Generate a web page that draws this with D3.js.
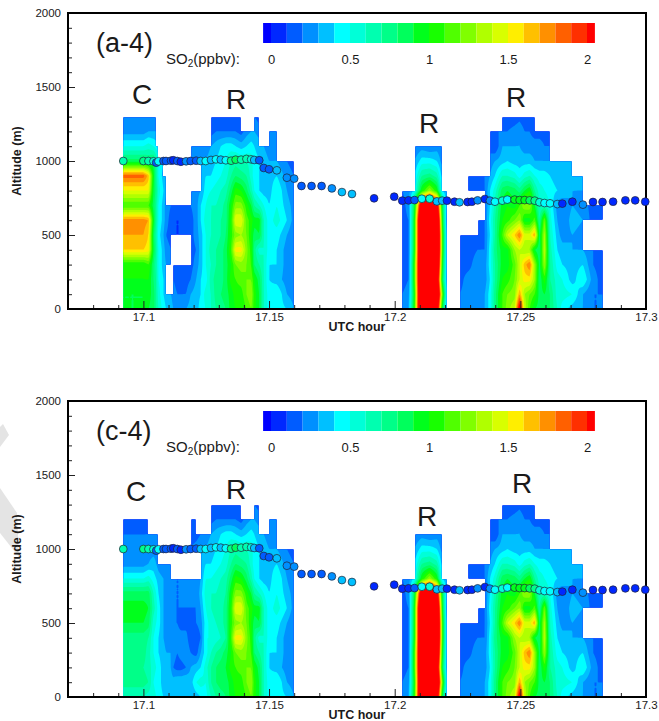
<!DOCTYPE html>
<html>
<head>
<meta charset="utf-8">
<title>SO2 curtains</title>
<script src="https://cdn.jsdelivr.net/npm/d3@7"></script>
<style>
	html, body { margin: 0; background: #fff; overflow: hidden; }
	svg { display: block; }
	text { font-family: "Liberation Sans", Arial, sans-serif; fill: #1a1a1a; }
</style>
</head>
<body>
<svg id="chart" width="659" height="721"></svg>
<script>
const _ = null;

// grid rows, top to bottom of each column
const altitudes = [1300, 1200, 1100, 1000, 900, 800, 700, 600, 500, 400, 300, 200, 100, 0];

// flight hours of each profile column
const hoursC = [17.0920, 17.1000, 17.1020, 17.1040, 17.1051, 17.1060, 17.1080, 17.1090, 17.1110, 17.1119, 17.1135, 17.1149, 17.1170, 17.1188, 17.1210, 17.1228, 17.1248, 17.1269, 17.1289, 17.1308, 17.1328, 17.1349, 17.1367, 17.1389, 17.1410, 17.1429, 17.1441, 17.1461, 17.1479, 17.1500, 17.1531, 17.1571, 17.1600];
const hoursR2 = [17.2030, 17.2055, 17.2079, 17.2108, 17.2139, 17.2168, 17.2189, 17.2208];
const hoursR3 = [17.2258, 17.2290, 17.2307, 17.2330, 17.2359, 17.2379, 17.2399, 17.2428, 17.2448, 17.2477, 17.2497, 17.2517, 17.2537, 17.2557, 17.2576, 17.2596, 17.2618, 17.2647, 17.2667, 17.2707, 17.2749, 17.2789, 17.2827];
const hoursGap1 = [17.1629, 17.1669, 17.1709, 17.1750, 17.1790, 17.1830, 17.1918, 17.1998];
const hoursGap2 = [17.2238];
const hoursGap3 = [17.2869, 17.2918, 17.2957, 17.2997];

// SO2 columns of the first block in panel (a-4)
const columnsA = [
	[.2, .25, .5, .85, 1.85, 1.5, 1.1, 1.75, 1.7, 1.6, 1, 1, .9, .9],
	[.2, .25, .5, .85, 1.85, 1.5, 1.1, 1.75, 1.7, 1.6, 1, 1, .9, .9],
	[.2, .3, .55, .8, 1.65, 1.5, 1.1, 1.7, 1.6, 1.55, 1.1, 1, .95, .9],
	[.2, .3, .5, .85, .95, .9, .85, .95, .85, .9, .8, .8, .85, .85],
	[.2, .3, .45, .7, .7, .75, .7, .7, .65, .7, .65, .7, .7, .7],
	[_, _, .4, .5, .5, .55, .5, .5, .45, .5, .5, .5, .55, .6],
	[_, _, _, .4, .35, .4, .35, .35, .3, .35, .35, .4, .4, .45],
	[_, _, _, _, .3, .3, .25, .25, .2, .25, .3, .3, .35, .4],
	[_, _, _, _, _, _, .2, .15, .15, .2, .25, _, .3, .35],
	[_, _, _, _, _, _, .15, .1, .1, _, .15, .2, .25, .3],
	[_, _, _, _, _, _, .15, .1, .1, _, .15, .15, .2, .25],
	[_, _, _, _, _, _, .15, .1, .1, _, .15, .15, .2, .25],
	[_, _, _, _, _, _, .2, .12, .1, _, .15, .15, .2, .3],
	[_, _, .2, .2, _, .2, .2, .15, .15, .15, .15, .2, .3, .35],
	[_, _, .2, .25, _, .25, .25, .25, .25, .2, .25, .3, .35, .35],
	[_, _, .25, .3, .3, .3, .4, .4, .35, .35, .35, .4, .4, .45],
	[_, _, .25, .3, .4, .45, .5, .55, .5, .5, .5, .45, .55, .5],
	[.1, .15, .3, .35, .4, .5, .6, .6, .6, .65, .6, .65, .6, .6],
	[.1, .2, .35, .4, .45, .55, .6, .65, .65, .7, .7, .75, .75, .7],
	[.1, .2, .4, .45, .5, .6, .65, .7, .7, .75, .75, .75, .8, .75],
	[.1, .2, .45, .5, .55, .65, .75, .75, .8, .85, .85, .85, .85, .8]
];

// same columns in panel (c-4)
const columnsC = [
	[_, .15, .2, .2, .25, .5, .85, .95, .9, .75, .75, .7, .75, .6],
	[_, .15, .2, .2, .25, .5, .85, .95, .9, .75, .75, .7, .75, .6],
	[_, .15, .2, .25, .3, .55, .85, .9, .85, .7, .65, .65, .7, .55],
	[_, _, .2, .25, .35, .45, .6, .65, .55, .5, .5, .55, .5, .55],
	[_, _, .2, .25, .3, .4, .5, .55, .5, .45, .45, .5, .45, .5],
	[_, _, .2, .2, .25, .35, .4, .45, .45, .4, .4, .45, .45, .45],
	[_, _, _, _, .2, .3, .3, .3, .3, .3, .35, .35, .35, .4],
	[_, _, _, _, .2, .25, .25, .25, .25, .25, .3, .35, .35, .35],
	[_, _, _, _, .2, .2, .2, .2, .2, .25, .3, .3, .35, .3],
	[_, _, _, _, _, .2, .2, .2, .2, .25, .25, .2, .35, .3],
	[_, _, _, _, _, .2, .2, .2, .2, .25, .2, .15, .4, .3],
	[_, _, _, _, _, .2, .2, .2, .15, .25, .25, .15, .4, .3],
	[_, _, _, _, _, .2, .2, .2, .15, .25, .3, .2, .4, .3],
	[_, .15, .15, .2, _, .2, .2, .2, .15, .1, .2, .3, .35, .3],
	[_, .15, .15, .25, _, .2, .2, .2, .2, .1, .15, .35, .5, .35],
	[_, _, .2, .3, .3, .3, .35, .3, .25, .2, .3, .4, .55, .4],
	[_, _, .25, .3, .4, .5, .55, .5, .45, .5, .45, .55, .5, .45],
	[.1, .15, .3, .35, .4, .5, .6, .6, .55, .5, .6, .7, .7, .6],
	[.1, .2, .35, .4, .45, .55, .6, .65, .6, .55, .7, .8, .8, .7],
	[.1, .2, .4, .45, .5, .6, .65, .65, .65, .6, .75, .85, .85, .75],
	[.1, .2, .45, .5, .55, .65, .7, .75, .75, .7, .85, .9, .85, .8]
];

// right part of the first block, the same in both panels
const columnsShared = [
	[.1, .2, .45, .6, .7, .85, 1, 1.05, 1.05, 1.1, 1, 1.05, .95, .95],
	[.1, .2, .4, .65, .8, 1.05, 1.25, 1.5, 1.25, 1.55, 1.2, 1.1, 1.05, 1],
	[.1, .15, .35, .6, .75, 1, 1.25, 1.5, 1.3, 1.55, 1.25, 1.15, 1.05, 1],
	[_, .25, .4, .6, .7, .85, 1.05, 1.15, 1.2, 1.25, 1.2, 1.2, 1.2, 1.1],
	[_, .3, .45, .55, .55, .65, .9, 1.05, 1, 1.05, 1.1, 1.2, 1.3, 1.2],
	[.2, .3, .4, .45, .45, .5, .7, .95, .85, .75, .8, 1, 1.05, 1.05],
	[.15, .25, .35, .4, .4, .4, .6, .95, .9, .55, .7, .85, .9, .9],
	[_, _, .3, .35, .35, .35, .5, .6, .6, .6, .6, .6, .6, .6],
	[_, .2, .25, .3, .35, .35, .4, .45, .45, .45, .4, .4, .45, .45],
	[_, .2, .25, .3, .4, .5, .5, .55, .45, .4, .4, .35, .5, .45],
	[_, _, _, .2, .25, .3, .35, .4, .3, .25, .25, .25, .3, .4],
	[_, _, _, .15, .2, .2, .25, .25, .2, .2, .2, .2, .25, .3]
];

const columnsR2 = [
	[_, _, _, _, _, .2, .15, .15, .15, .15, .15, .15, .2, .2],
	[_, _, _, _, _, .25, .25, .2, .2, .2, .2, .2, .25, .3],
	[_, _, .2, .3, .4, .45, .9, 1, 1, 1, 1.1, 1.1, 1, 1.05],
	[_, _, .25, .45, .7, 1, 2.5, 3, 3, 3, 3, 3, 3, 3],
	[_, _, .2, .45, .75, 1.3, 3, 4, 4, 4, 4, 4, 4, 4],
	[_, _, .25, .4, .65, 1, 2.3, 2.8, 3, 3, 2.8, 2.5, 2.8, 2.4],
	[_, _, .2, .25, .35, .4, .9, 1, 1.1, 1.1, 1, .9, 1.2, .9],
	[_, _, _, _, _, .3, .3, .25, .3, .3, .3, .3, .35, .3]
];

const columnsR3 = [
	[_, _, _, _, _, _, _, _, .1, .12, .15, .15, .2, .2],
	[_, _, _, _, .15, .15, _, _, .15, .15, .15, .25, .25, .2],
	[_, _, _, _, .15, .15, _, _, .15, .15, .2, .25, .25, .25],
	[_, _, _, _, .2, .15, _, .15, .15, .2, .3, .2, .2, .25],
	[_, _, _, _, .2, .2, .2, .2, .2, .2, .25, .25, .3, .3],
	[_, .15, .15, .25, .3, .4, .4, .45, .4, .45, .45, .4, .45, .45],
	[_, .2, .1, .3, .4, .55, .65, .7, .7, .75, .7, .7, .75, .75],
	[.1, .2, .3, .35, .6, .85, .95, 1, 1.1, .95, .95, 1, 1.1, 1.1],
	[.1, .2, .3, .4, .6, .9, 1, 1.05, 1.4, .95, .95, 1.05, 1.2, 1.25],
	[.12, .25, .3, .35, .55, .85, .95, 1.2, 1.6, 1.3, 1.15, 1.2, 1.25, 1.4],
	[.15, .3, .3, .35, .45, .75, 1.1, 1.3, 1.8, 1.4, 1.4, 1.4, 1.7, 2.2],
	[.1, .2, .25, .35, .55, .9, 1.3, .95, 1.45, 1.3, 1.65, 1.55, 1.3, 1.4],
	[.1, .2, .25, .35, .6, 1, 1.3, .95, 1.45, 1.3, 1.8, 1.55, 1.2, 1.1],
	[.1, .15, .25, .3, .5, .7, .9, 1.15, 1.7, .9, 1.3, 1.3, 1.1, .9],
	[_, .15, .25, .3, .45, .55, .6, .7, .85, .8, .85, .8, .85, .85],
	[_, .15, .2, .3, .45, .5, .6, 1.2, 1.35, 1.4, 1.3, 1.05, .9, .9],
	[_, .15, .2, .3, .4, .45, .5, .55, .6, .65, .7, .7, .8, .8],
	[_, _, _, .3, .35, .4, .25, .3, .35, .4, .45, .55, .55, .6],
	[_, _, _, .35, .35, .4, .2, .2, .25, .35, .4, .5, .55, .45],
	[_, _, _, .3, .35, .3, .3, .35, .3, .3, .35, .35, .5, .35],
	[_, _, _, _, .3, .3, .25, .3, .25, .3, .4, .5, .3, .3],
	[_, _, _, _, _, _, .15, .15, _, .2, .2, .25, .2, .2],
	[_, _, _, _, _, _, .15, .15, _, .15, .15, .15, .2, .2]
];

// flight track, in order of time
const dotHours = [...hoursC, ...hoursGap1, ...hoursR2, ...hoursGap2, ...hoursR3, ...hoursGap3];
const dotAltitudes = [
	1000, 1000, 1000, 998, 989, 998, 1000, 1000, 1002, 1005, 1000, 995, 998, 1000, 1002, 1000, 1000, 1007, 1011, 1009, 1005, 1002, 1009, 1009, 1014, 1011, 1007, 1005, 953, 944, 937, 887, 881,
	831, 831, 831, 815, 790, 777, 748, 759,
	732, 734, 736, 745, 745, 727, 732, 732,
	725,
	721, 723, 725, 734, 743, 732, 725, 732, 739, 739, 736, 736, 734, 732, 721, 716, 714, 709, 712, 725, 705, 723, 723,
	725, 734, 734, 725
];
const dotValues = [
	.65, .7, .65, .55, .1, .45, .15, .15, .15, .05, .15, .05, .25, .15, .15, .3, .4, .35, .45, .3, .45, .7, .8, .65, .6, .55, .3, .15, .15, .15, .3, .2, .25,
	.1, .1, .1, .2, .3, .35, .05, .05,
	.05, .05, .15, .4, .55, .3, .3, .05,
	.05,
	.3, .05, .05, .25, .05, .25, .45, .55, .45, .95, .95, .95, .85, .75, .5, .45, .45, .3, .05, .05, .2, .05, .05,
	.05, .05, .05, .05
];

const levels = d3.range(0, 21).map(d => d / 10);
const levelColors = ['#0000ff', '#0028ff', '#005cff', '#0090ff', '#00c0ff', '#00ffff', '#00ffd8', '#00ffb0', '#00ff88', '#00ff5c', '#00ff1c', '#18ff00', '#50ff00', '#80ff00', '#b0ff00', '#d8ff00', '#ffee00', '#ffc000', '#ff9000', '#ff6000', '#ff3000', '#ff0000'];
const colorOf = d3.scaleThreshold().domain(levels).range(levelColors);

const yMajor = [0, 500, 1000, 1500, 2000];
const xMajor = [17.1, 17.15, 17.2, 17.25, 17.3];
const barTicks = [0, 0.5, 1, 1.5, 2];

const left = 68, right = 646, plotHeight = 296;
const x = d3.scaleLinear().domain([17.07, 17.3]).range([left, right]);
const svg = d3.select('#chart');

// watermark pieces at the left edge
svg.selectAll('.mark').data([
	[[0, 427], [3, 424], [9, 435], [0, 447]],
	[[0, 488], [17, 513], [19, 557], [0, 533]]
]).enter().append('polygon')
	.attr('points', d => d.join(' '))
	.attr('fill', '#e4e4e4');

// value of the block at a place, bilinear inside a quad with four known corners
function sample(hours, columns, t, alt) {
	if (t < hours[0] || t > hours[hours.length - 1]) return null;
	const i = Math.min(d3.bisectRight(hours, t) - 1, hours.length - 2);
	const j = Math.min(Math.floor((1300 - alt) / 100), altitudes.length - 2);
	if (j < 0) return null;
	const a = columns[i][j], b = columns[i + 1][j], c = columns[i][j + 1], d = columns[i + 1][j + 1];
	if (a === null || b === null || c === null || d === null) return null;
	const u = (t - hours[i]) / (hours[i + 1] - hours[i]);
	const v = (altitudes[j] - alt) / 100;
	return (a * (1 - u) + b * u) * (1 - v) + (c * (1 - u) + d * u) * v;
}

function drawPanel(top, firstColumns, title, letters) {
	const y = d3.scaleLinear().domain([0, 2000]).range([top + plotHeight, top]);
	const g = svg.append('g');
	const width = right - left;
	const columnsFirst = firstColumns.concat(columnsShared);
	const blocks = [[hoursC, columnsFirst], [hoursR2, columnsR2], [hoursR3, columnsR3]];

	const field = new Array(width * plotHeight).fill(null);
	for (let row = 0; row < plotHeight; row++) {
		const alt = y.invert(top + row + 0.5);
		for (let col = 0; col < width; col++) {
			const t = x.invert(left + col + 0.5);
			for (let b of blocks) {
				const value = sample(b[0], b[1], t, alt);
				if (value !== null) field[row * width + col] = value;
			}
		}
	}

	const bands = d3.contours().size([width, plotHeight]).thresholds([-1, ...levels])(field);
	g.append('g')
		.attr('transform', `translate(${left},${top})`)
		.selectAll('path')
		.data(bands)
		.enter().append('path')
		.attr('d', d3.geoPath())
		.attr('fill', d => colorOf(d.value));

	// axes, ticks point inwards
	const yAxis = d3.axisLeft(y).tickValues(yMajor).tickSize(-7).tickPadding(7).tickFormat(d3.format('d'));
	const yMinor = d3.axisLeft(y).tickValues(d3.range(0, 2001, 100).filter(d => !yMajor.includes(d))).tickSize(-4).tickFormat('');
	const xAxis = d3.axisBottom(x).tickValues(xMajor).tickSize(-8).tickPadding(4).tickFormat(d3.format('~g'));
	const xMinor = d3.axisBottom(x).tickValues(d3.range(17.08, 17.295, 0.01).filter(d => !xMajor.some(m => Math.abs(m - d) < 1e-6))).tickSize(-4).tickFormat('');
	[[yMinor, left, 0], [yAxis, left, 0], [xMinor, 0, top + plotHeight], [xAxis, 0, top + plotHeight]].forEach(a => {
		const axis = g.append('g').attr('transform', `translate(${a[1]},${a[2]})`).call(a[0]);
		axis.select('.domain').remove();
		axis.selectAll('line').attr('stroke', '#222');
		axis.selectAll('text').attr('font-size', 11.5).attr('font-family', '"Liberation Sans", Arial, sans-serif').attr('fill', '#1a1a1a');
	});

	g.append('rect')
		.attr('x', left).attr('y', top)
		.attr('width', width).attr('height', plotHeight)
		.attr('fill', 'none').attr('stroke', '#000').attr('stroke-width', 2);

	g.append('text')
		.attr('x', 357).attr('y', top + plotHeight + 22)
		.attr('text-anchor', 'middle').attr('font-size', 12.5).attr('font-weight', 'bold')
		.text('UTC hour');
	g.append('text')
		.attr('transform', `translate(21,${top + 148}) rotate(-90)`)
		.attr('text-anchor', 'middle').attr('font-size', 12.5).attr('font-weight', 'bold')
		.text('Altitude (m)');

	// flight track
	g.append('g').selectAll('circle')
		.data(dotHours)
		.enter().append('circle')
		.attr('cx', d => x(d))
		.attr('cy', (d, i) => y(dotAltitudes[i]))
		.attr('r', 3.9)
		.attr('fill', (d, i) => colorOf(dotValues[i]))
		.attr('stroke', '#223').attr('stroke-width', 0.7);

	// colour bar
	const barX = d3.scaleLinear().domain([0, 2]).range([271, 587]);
	const edges = [-0.05, ...levels, 2.05];
	g.append('g').selectAll('rect')
		.data(levelColors)
		.enter().append('rect')
		.attr('x', (d, i) => barX(edges[i]))
		.attr('y', top + 10)
		.attr('width', (d, i) => barX(edges[i + 1]) - barX(edges[i]))
		.attr('height', 20)
		.attr('fill', d => d);
	const barAxis = g.append('g')
		.attr('transform', `translate(0,${top + 30})`)
		.call(d3.axisBottom(barX).tickValues(barTicks).tickSize(0).tickPadding(12).tickFormat(d3.format('~g')));
	barAxis.select('.domain').remove();
	barAxis.selectAll('text').attr('font-size', 13).attr('font-family', '"Liberation Sans", Arial, sans-serif').attr('fill', '#1a1a1a');

	const so2 = g.append('text').attr('x', 166).attr('y', top + 51).attr('font-size', 15);
	so2.append('tspan').text('SO');
	so2.append('tspan').attr('font-size', 10).attr('dy', 3).text('2');
	so2.append('tspan').attr('dy', -3).text('(ppbv):');

	g.append('text').attr('x', 96).attr('y', top + 39).attr('font-size', 27).text(title);
	letters.forEach(l => {
		g.append('text')
			.attr('x', l[1]).attr('y', l[2])
			.attr('text-anchor', 'middle').attr('font-size', 28)
			.text(l[0]);
	});
}

drawPanel(13, columnsA, '(a-4)', [['C', 142, 104], ['R', 236, 109], ['R', 429, 133], ['R', 516, 107]]);
drawPanel(401, columnsC, '(c-4)', [['C', 136, 501], ['R', 236, 499], ['R', 427, 526], ['R', 522, 493]]);
</script>
</body>
</html>
